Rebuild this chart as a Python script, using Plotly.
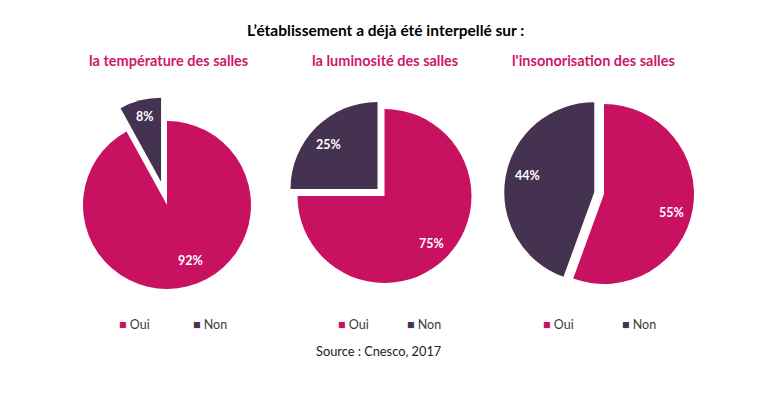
import plotly.graph_objects as go

TITLE = "L’établissement a déjà été interpellé sur :"
SOURCE = "Source : Cnesco, 2017"
CATEGORIES = ["Oui", "Non"]
COLORS = ["#c91162", "#443250"]
SUBTITLES = ["la température des salles", "la luminosité des salles", "l'insonorisation des salles"]
TEMPERATURE = [92, 8]
LUMINOSITE = [75, 25]
INSONORISATION = [55, 44]

W, H = 770, 400
PAGE_MARGIN = 8  # the page body offsets the figure by this many pixels
FONT = "Lato"

def px_domain(cx, cy, half):
    cx -= PAGE_MARGIN
    cy -= PAGE_MARGIN
    return dict(x=[(cx - half) / W, (cx + half) / W], y=[1 - (cy + half) / H, 1 - (cy - half) / H])

def a(x, y, text, size, color, bold=False, anchor="center"):
    return dict(x=(x - PAGE_MARGIN) / W, y=1 - (y - PAGE_MARGIN) / H, xref="paper", yref="paper",
                text=f"<b>{text}</b>" if bold else text,
                showarrow=False, xanchor=anchor, yanchor="middle",
                font=dict(family=FONT, size=size, color=color))

fig = go.Figure()
pies = [
    (TEMPERATURE, [0, 0.285], 167, 205, 84),
    (LUMINOSITE, [0, 0.114], 384.5, 196, 87),
    (INSONORISATION, [0, 0.11], 604, 194, 90),
]
for vals, pull, cx, cy, r in pies:
    half = r * (1 + max(pull))
    fig.add_trace(go.Pie(labels=CATEGORIES, values=vals, sort=False, direction="clockwise", rotation=0,
                         pull=pull, marker=dict(colors=COLORS, line=dict(width=0)),
                         textinfo="none", showlegend=False, hoverinfo="label+percent",
                         domain=px_domain(cx, cy, half)))

ann = [a(385.5, 30, TITLE, 15.5, "#000000", True)]
for x, s in zip([168, 384.5, 593], SUBTITLES):
    ann.append(a(x, 60, s, 14.5, "#d0176a", True))
for (x, y), v in zip([(145, 117), (190, 260), (328, 144), (432, 243), (527, 175), (671, 213)],
                     [TEMPERATURE[1], TEMPERATURE[0], LUMINOSITE[1], LUMINOSITE[0], INSONORISATION[1], INSONORISATION[0]]):
    ann.append(a(x, y, f"{v}%", 12.5, "#ffffff", True))
for x in [(117, 191), (336, 405), (541, 620)]:
    for xx, cat, col in zip(x, CATEGORIES, COLORS):
        ann.append(a(xx, 324, f'<span style="color:{col}">■</span> {cat}', 12.5, "#3a3a3a", anchor="left"))
ann.append(a(378.5, 351, SOURCE, 12.8, "#222222"))

fig.update_layout(width=W, height=H, margin=dict(l=0, r=0, t=0, b=0), paper_bgcolor="white",
                  annotations=ann)
fig.write_html("out.html")
